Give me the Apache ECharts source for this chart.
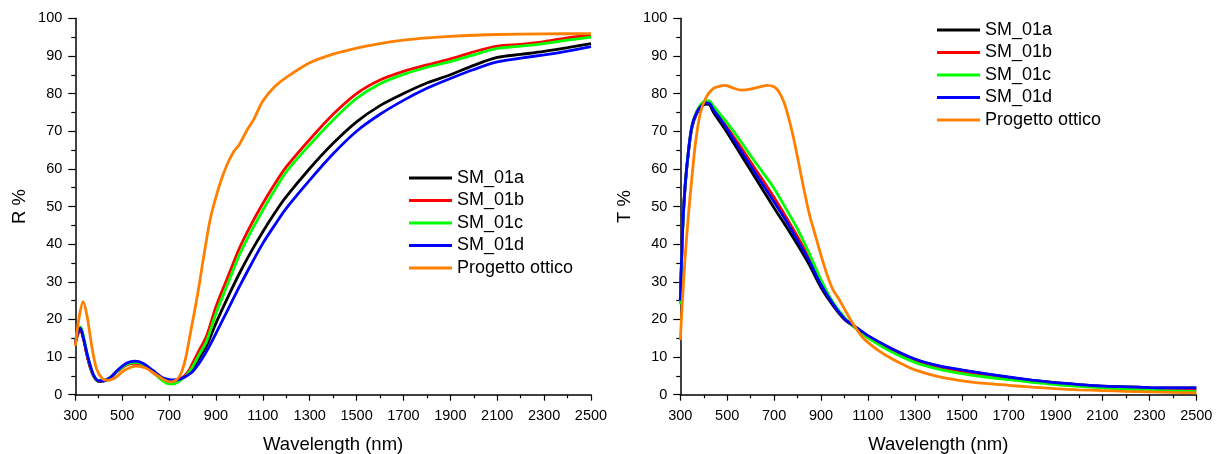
<!DOCTYPE html>
<html>
<head>
<meta charset="utf-8">
<script src="https://cdn.jsdelivr.net/npm/echarts@6/dist/echarts.min.js"></script>
<style>
html,body{margin:0;padding:0;background:#fff;}
#c{width:1218px;height:454px;}
</style>
</head>
<body>
<div id="c"></div>
<script>
// ---------- DATA ----------
const seriesNames = ['SM_01a', 'SM_01b', 'SM_01c', 'SM_01d', 'Progetto ottico'];
const xTicks = [300, 500, 700, 900, 1100, 1300, 1500, 1700, 1900, 2100, 2300, 2500];

// Reflectance (left)
const R_wl = [300, 310, 322, 335, 350, 365, 380, 400, 420, 450, 480, 520, 555, 590, 630, 670, 700, 720, 750, 780, 800, 830, 860, 900, 950, 1000, 1050, 1100, 1150, 1200, 1300, 1400, 1500, 1600, 1700, 1800, 1900, 2000, 2100, 2200, 2300, 2400, 2500];
const R_a = [13.5, 16, 17.2, 14.8, 10.5, 7, 4.7, 3.5, 3.6, 4.5, 6.3, 8.2, 8.7, 8.1, 6.3, 4.4, 3.8, 3.6, 4.2, 5.5, 7.0, 9.8, 13, 19, 25.8, 32.2, 38, 43.3, 48.2, 52.6, 60.1, 66.8, 72.5, 76.8, 80, 82.8, 85, 87.5, 89.6, 90.4, 91.2, 92.2, 93.3];
const R_b = [13.5, 16, 17.2, 14.8, 10.5, 7, 4.8, 3.6, 3.7, 4.5, 6.2, 7.9, 8.3, 7.8, 6.0, 4.1, 3.2, 3.2, 4.2, 6, 8.3, 12, 15.6, 23.4, 31.2, 38.9, 45.2, 50.8, 55.9, 60.5, 67.8, 74.5, 80, 83.6, 85.9, 87.6, 89.2, 91.1, 92.6, 93.1, 93.8, 94.8, 95.5];
const R_c = [14, 16.8, 18, 15.5, 11, 7.4, 4.9, 3.7, 3.8, 4.6, 6.3, 8.1, 8.6, 8.0, 6.0, 3.8, 2.9, 2.9, 3.9, 5.6, 7.4, 10.8, 14.2, 21.6, 29.4, 37.1, 43.4, 49, 54.3, 59.2, 66.4, 73, 78.7, 82.6, 85.1, 87, 88.5, 90.3, 92, 92.6, 93.3, 94.2, 95];
const R_d = [14, 16.5, 17.6, 15, 10.9, 7.5, 5, 3.7, 3.7, 4.6, 6.5, 8.4, 8.9, 8.3, 6.5, 4.6, 4.0, 3.9, 4.2, 5.2, 6.1, 8.5, 11.5, 16.3, 22.5, 28.7, 34.6, 40.2, 45, 49.5, 57, 64, 70, 74.5, 78.2, 81.4, 84, 86.4, 88.4, 89.4, 90.3, 91.3, 92.5];
const R_opt_wl = [300, 315, 333, 350, 370, 390, 415, 440, 470, 510, 560, 600, 640, 680, 705, 730, 750, 770, 790, 820, 850, 875, 900, 925, 950, 975, 1000, 1030, 1060, 1100, 1150, 1200, 1300, 1400, 1500, 1600, 1700, 1800, 1900, 2000, 2100, 2300, 2500];
const R_opt = [13, 20, 24.7, 21, 13, 7, 4.3, 3.8, 4.5, 6.5, 7.6, 7.1, 5.5, 3.9, 3.4, 3.9, 5.5, 9.5, 16, 26, 37.5, 46.5, 52.5, 57.5, 61.5, 64.5, 66.5, 70, 73, 78, 81.8, 84.3, 88.2, 90.5, 92.1, 93.3, 94.2, 94.8, 95.2, 95.5, 95.7, 95.85, 95.95];

// Transmittance (right)
const T_wl = [300, 310, 320, 335, 350, 370, 390, 410, 425, 440, 470, 500, 550, 600, 650, 700, 750, 800, 850, 900, 950, 1000, 1050, 1100, 1200, 1300, 1400, 1500, 1600, 1700, 1800, 1900, 2000, 2100, 2200, 2300, 2400, 2500];
const T_a = [25, 44, 55, 64.5, 71, 74.7, 76.5, 77.2, 77, 75.2, 72.4, 69.6, 64.6, 59.6, 54.6, 49.6, 44.8, 39.8, 34.5, 28.5, 23.8, 20.0, 17.8, 15.6, 12.2, 9.4, 7.6, 6.5, 5.5, 4.6, 3.8, 3.2, 2.7, 2.3, 2.1, 1.9, 1.8, 1.8];
const T_b = [25, 44, 55, 64.8, 71.3, 75, 77, 77.7, 77.6, 76, 73.6, 71, 66.5, 61.8, 57.2, 52.4, 47.3, 42, 36.2, 29.7, 24.3, 20.2, 17.6, 15.3, 11.8, 9.0, 7.2, 6, 5.1, 4.3, 3.6, 3.0, 2.5, 2.1, 1.8, 1.6, 1.4, 1.3];
const T_c = [24, 43, 55, 65, 71.5, 75.3, 77.3, 78.1, 78, 76.8, 74.5, 72.2, 68, 63.5, 59.2, 54.8, 49.5, 44, 37.5, 30.5, 24.6, 20.5, 17.5, 15.1, 11.4, 8.6, 6.8, 5.6, 4.7, 4.0, 3.3, 2.7, 2.2, 1.8, 1.5, 1.2, 1.0, 0.8];
const T_d = [25, 44, 55, 65, 71.5, 75, 76.8, 77.5, 77.4, 75.8, 73.3, 70.5, 65.6, 60.8, 56, 51.2, 46.3, 41, 35.5, 29.2, 24.2, 20.2, 17.9, 15.7, 12.3, 9.5, 7.7, 6.6, 5.6, 4.7, 3.9, 3.2, 2.7, 2.3, 2.1, 1.9, 1.8, 1.8];
const T_opt_wl = [300, 310, 320, 335, 350, 365, 385, 410, 440, 470, 490, 520, 560, 600, 640, 670, 700, 720, 740, 760, 780, 800, 825, 850, 875, 900, 925, 950, 975, 1000, 1025, 1050, 1075, 1100, 1150, 1200, 1250, 1300, 1400, 1500, 1600, 1700, 1800, 1900, 2000, 2100, 2200, 2300, 2400, 2500];
const T_opt = [14.5, 26, 36, 48, 58, 67, 74.7, 79, 81.3, 82, 82.2, 81.6, 80.9, 81.2, 81.8, 82.2, 81.8, 80.5, 78, 74, 69, 63, 55.2, 48, 42.5, 37, 32, 28, 25.5, 22.8, 20, 17.6, 15.4, 13.9, 11.5, 9.6, 8, 6.6, 4.8, 3.7, 3.0, 2.5, 2.0, 1.6, 1.3, 1.1, 0.9, 0.75, 0.6, 0.5];

const colors = ['#000000', '#ff0000', '#00ff00', '#0000ff', '#ff8000'];
// ---------- CHART ----------
const zip = (xs, ys) => xs.map((x, i) => [x, ys[i]]);
const FONT = 'Liberation Sans, Arial, sans-serif';

function xAxisDef(gi) {
  return {
    type: 'value', gridIndex: gi, min: 300, max: 2500, interval: 200,
    name: 'Wavelength (nm)', nameLocation: 'middle', nameGap: 41,
    nameTextStyle: { fontFamily: FONT, fontSize: 18.5, color: '#000' },
    axisLine: { show: true, onZero: false, lineStyle: { color: '#000', width: 1.5 } },
    axisTick: { show: true, inside: false, length: 6, lineStyle: { color: '#000', width: 1.2 } },
    minorTick: { show: true, splitNumber: 2, length: 3.5, lineStyle: { color: '#000', width: 1.2 } },
    axisLabel: { fontFamily: FONT, fontSize: 14.5, color: '#000', margin: 14,
      customValues: xTicks, formatter: v => String(v) },
    splitLine: { show: false }, minorSplitLine: { show: false }
  };
}
function yAxisDef(gi, name) {
  return {
    type: 'value', gridIndex: gi, min: 0, max: 100, interval: 10,
    name: name, nameLocation: 'middle', nameGap: 46, nameRotate: 90,
    nameTextStyle: { fontFamily: FONT, fontSize: 18.5, color: '#000' },
    axisLine: { show: true, onZero: false, lineStyle: { color: '#000', width: 1.5 } },
    axisTick: { show: true, inside: false, length: 7, lineStyle: { color: '#000', width: 1.2 } },
    minorTick: { show: true, splitNumber: 2, length: 4, lineStyle: { color: '#000', width: 1.2 } },
    axisLabel: { fontFamily: FONT, fontSize: 14.5, color: '#000', margin: 13 },
    splitLine: { show: false }, minorSplitLine: { show: false }
  };
}
function lineSeries(name, gi, data, color) {
  return {
    name: name, type: 'line', xAxisIndex: gi, yAxisIndex: gi,
    data: data, symbol: 'none', showSymbol: false, smooth: 0.3,
    lineStyle: { color: color, width: 2.8 }, itemStyle: { color: color },
    z: 2
  };
}
const Rsets = [R_a, R_b, R_c, R_d];
const Tsets = [T_a, T_b, T_c, T_d];
const series = [];
for (let i = 0; i < 4; i++) series.push(lineSeries(seriesNames[i], 0, zip(R_wl, Rsets[i]), colors[i]));
series.push(lineSeries(seriesNames[4], 0, zip(R_opt_wl, R_opt), colors[4]));
for (let i = 0; i < 4; i++) series.push(lineSeries(seriesNames[i], 1, zip(T_wl, Tsets[i]), colors[i]));
series.push(lineSeries(seriesNames[4], 1, zip(T_opt_wl, T_opt), colors[4]));

const legendCommon = {
  orient: 'vertical', data: seriesNames, icon: 'rect', itemWidth: 43, itemHeight: 3, itemGap: 4.5,
  textStyle: { fontFamily: FONT, fontSize: 18, lineHeight: 18, color: '#000' }, selectedMode: false
};

const chart = echarts.init(document.getElementById('c'), null, { renderer: 'canvas' });
chart.setOption({
  animation: false,
  backgroundColor: '#fff',
  grid: [
    { left: 75.3, right: 627, top: 18.3, bottom: 59.3, outerBoundsMode: 'none', containLabel: false },
    { left: 680.3, right: 21.7, top: 18.3, bottom: 59.3, outerBoundsMode: 'none', containLabel: false }
  ],
  xAxis: [xAxisDef(0), xAxisDef(1)],
  yAxis: [yAxisDef(0, 'R %'), yAxisDef(1, 'T %')],
  legend: [
    Object.assign({ left: 404, top: 164 }, legendCommon),
    Object.assign({ left: 932, top: 16 }, legendCommon)
  ],
  series: series
});
</script>
</body>
</html>
